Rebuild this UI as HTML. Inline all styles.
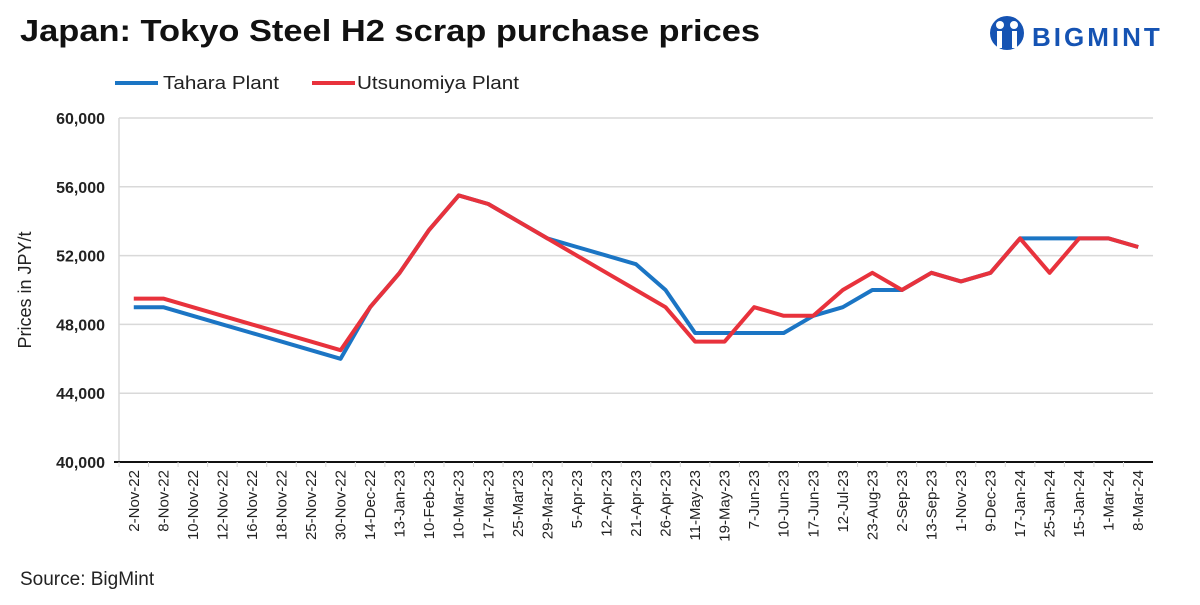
<!DOCTYPE html>
<html><head><meta charset="utf-8"><style>
body{margin:0;background:#fff;font-family:"Liberation Sans",sans-serif;}
</style></head><body>
<svg width="1200" height="600" xmlns="http://www.w3.org/2000/svg">
<text x="20" y="41" font-size="31" font-weight="bold" fill="#111" textLength="740" lengthAdjust="spacingAndGlyphs">Japan: Tokyo Steel H2 scrap purchase prices</text>
<g>
<circle cx="1007" cy="33" r="17" fill="#1553b3"/>
<circle cx="1000" cy="25" r="4" fill="#fff"/><circle cx="1014" cy="25" r="4" fill="#fff"/>
<rect x="997" y="31" width="5" height="17" fill="#fff"/><rect x="1012" y="31" width="5" height="17" fill="#fff"/>
<text x="1032" y="46" font-size="26" font-weight="bold" fill="#1553b3" letter-spacing="3">BIGMINT</text>
</g>
<g>
<line x1="115" y1="83" x2="158" y2="83" stroke="#1b75c4" stroke-width="4"/>
<text x="163" y="89" font-size="18" fill="#222" textLength="116" lengthAdjust="spacingAndGlyphs">Tahara Plant</text>
<line x1="312" y1="83" x2="355" y2="83" stroke="#e8323c" stroke-width="4"/>
<text x="357" y="89" font-size="18" fill="#222" textLength="162" lengthAdjust="spacingAndGlyphs">Utsunomiya Plant</text>
</g>
<text transform="translate(31,290) rotate(-90)" text-anchor="middle" font-size="18" fill="#222">Prices in JPY/t</text>
<g id="plot"></g>
<text x="20" y="585" font-size="19" fill="#222">Source: BigMint</text>
</svg>
<script>
const categories=["2-Nov-22","8-Nov-22","10-Nov-22","12-Nov-22","16-Nov-22","18-Nov-22","25-Nov-22","30-Nov-22","14-Dec-22","13-Jan-23","10-Feb-23","10-Mar-23","17-Mar-23","25-Mar'23","29-Mar-23","5-Apr-23","12-Apr-23","21-Apr-23","26-Apr-23","11-May-23","19-May-23","7-Jun-23","10-Jun-23","17-Jun-23","12-Jul-23","23-Aug-23","2-Sep-23","13-Sep-23","1-Nov-23","9-Dec-23","17-Jan-24","25-Jan-24","15-Jan-24","1-Mar-24","8-Mar-24"];
const tahara=[49000,49000,48500,48000,47500,47000,46500,46000,49000,51000,53500,55500,55000,54000,53000,52500,52000,51500,50000,47500,47500,47500,47500,48500,49000,50000,50000,51000,50500,51000,53000,53000,53000,53000,52500];
const utsunomiya=[49500,49500,49000,48500,48000,47500,47000,46500,49000,51000,53500,55500,55000,54000,53000,52000,51000,50000,49000,47000,47000,49000,48500,48500,50000,51000,50000,51000,50500,51000,53000,51000,53000,53000,52500];
const yTicks=[40000,44000,48000,52000,56000,60000];
const X0=119,X1=1153,Y0=462,Y1=118,ymin=40000,ymax=60000;
const bw=(X1-X0)/categories.length;
const x=i=>X0+bw*(i+0.5);
const y=v=>Y0-(v-ymin)/(ymax-ymin)*(Y0-Y1);
const NS="http://www.w3.org/2000/svg";
const g=document.getElementById('plot');
function mk(t,a){const e=document.createElementNS(NS,t);for(const k in a)e.setAttribute(k,a[k]);g.appendChild(e);return e;}
yTicks.forEach(v=>{
 if(v>ymin){const l=mk('line',{x1:X0,x2:X1,y1:y(v),y2:y(v),stroke:'#d9d9d9','stroke-width':1.5});
 
 }
 const t=mk('text',{x:105,y:y(v)+6,'text-anchor':'end','font-size':16,'font-weight':'bold',fill:'#222'});
 t.textContent=v.toLocaleString('en-US');
 
 
});
const ya=mk('line',{x1:X0,x2:X0,y1:Y1,y2:Y0,stroke:'#d9d9d9','stroke-width':1.5});


const xa=mk('line',{x1:X0-5,x2:X1,y1:Y0,y2:Y0,stroke:'#111','stroke-width':2});


categories.forEach((c,i)=>{
 const tk=mk('line',{x1:X0+bw*i,x2:X0+bw*i,y1:Y0,y2:Y0+5,stroke:'#d9d9d9','stroke-width':1});
 
 
 const t=mk('text',{transform:`translate(${x(i)+5},${Y0+8}) rotate(-90)`,'text-anchor':'end','font-size':15,fill:'#222'});
 t.textContent=c;
 
 
});
function series(arr,col,name){
 const p=mk('polyline',{points:arr.map((v,i)=>x(i)+','+y(v)).join(' '),fill:'none',stroke:col,'stroke-width':4,'stroke-linejoin':'round'});
 
 
}
series(tahara,'#1b75c4','tahara-line');
series(utsunomiya,'#e8323c','utsunomiya-line');
</script>
</body></html>
